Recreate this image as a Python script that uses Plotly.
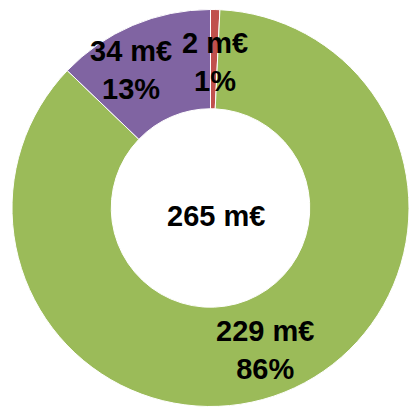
import plotly.graph_objects as go

# Data
labels = ["Red", "Green", "Purple"]
values = [2, 229, 34]
colors = ["#C0504D", "#9BBB59", "#8064A2"]
unit = "m€"

W, H = 409, 407
total = sum(values)
pcts = [round(v / total * 100) for v in values]

fig = go.Figure(go.Pie(
    labels=labels,
    values=values,
    hole=0.5,
    sort=False,
    direction="clockwise",
    rotation=0,
    marker=dict(colors=colors, line=dict(color="white", width=1)),
    textinfo="none",
    hoverinfo="label+value+percent",
    showlegend=False,
    domain=dict(x=[12 / W, 1], y=[0, 1 - 9 / H]),
))

FONT = dict(family="Liberation Sans, Arial, sans-serif", size=29, color="black", weight="bold")

def ann(text, px, py):
    fig.add_annotation(text=text, x=px / W, y=1 - py / H, xref="paper", yref="paper",
                       showarrow=False, font=FONT, xanchor="center", yanchor="middle")

# label pixel centres (layout only)
label_pos = [(215, 62), (265, 350), (131, 70)]
for v, p, (px, py) in zip(values, pcts, label_pos):
    ann(f"{v} {unit}<br>{p}%", px, py)

ann(f"{total} {unit}", 216, 216)

fig.update_layout(
    width=W, height=H,
    margin=dict(l=0, r=0, t=0, b=0),
    paper_bgcolor="white",
    plot_bgcolor="white",
)

fig.write_html("out.html")
